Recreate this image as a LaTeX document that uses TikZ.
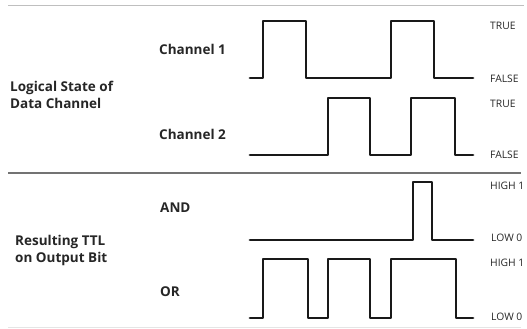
\documentclass[tikz,border=0pt]{standalone}
\usepackage{fontspec}
\setmainfont{Open Sans}
\begin{document}
\begin{tikzpicture}[x=1pt,y=-1pt,
  wave/.style={line width=2.7pt,line join=round,line cap=round,black!90},
  biglab/.style={anchor=base west,inner sep=0pt,font=\bfseries\fontsize{13.5}{16}\selectfont,text=black!85},
  sidelab/.style={anchor=base west,inner sep=0pt,font=\fontsize{10.3}{12}\selectfont,text=black!85},
  sep/.style={line width=1pt}]
\useasboundingbox (0,0) rectangle (527,329);
\fill[white] (0,0) rectangle (527,329);
% separators
\draw[sep,black!25] (8,6) -- (524,6);
\draw[sep,black!55,line width=1.4pt] (8,173) -- (521,173);
\draw[sep,black!10] (8,327) -- (521,327);
% waveforms
\draw[wave] (250,78) -- (263,78) -- (263,21) -- (306,21) -- (306,78) -- (391,78) -- (391,21) -- (434,21) -- (434,78) -- (473,78);
\draw[wave] (250,155) -- (328,155) -- (328,98) -- (370,98) -- (370,155) -- (411,155) -- (411,98) -- (455,98) -- (455,155) -- (473,155);
\draw[wave] (250,240) -- (413,240) -- (413,182) -- (432,182) -- (432,240) -- (473,240);
\draw[wave] (250,318) -- (263,318) -- (263,259) -- (308,259) -- (308,318) -- (328,318) -- (328,259) -- (370,259) -- (370,318) -- (391,318) -- (391,259) -- (456,259) -- (456,318) -- (473,318);
% left labels
\node[biglab] (ch1) at (159,55) {Channel 1};
\node[biglab] (lg1) at (10,91) {Logical State of};
\node[biglab] (lg2) at (10,108) {Data Channel};
\node[biglab] (ch2) at (159,139) {Channel 2};
\node[biglab] (and) at (160,212) {AND};
\node[biglab] (rt1) at (15,245) {Resulting TTL};
\node[biglab] (rt2) at (15,262) {on Output Bit};
\node[biglab] (or) at (160,296) {OR};
% right labels
\node[sidelab] (t1) at (490,30) {TRUE};
\node[sidelab] (f1) at (490,82) {FALSE};
\node[sidelab] (t2) at (490,107) {TRUE};
\node[sidelab] (f2) at (490,158) {FALSE};
\node[sidelab] (h1) at (490,189) {HIGH 1};
\node[sidelab] (l1) at (491,241) {LOW 0};
\node[sidelab] (h2) at (490,266) {HIGH 1};
\node[sidelab] (l2) at (491,320) {LOW 0};
\end{tikzpicture}
\end{document}
